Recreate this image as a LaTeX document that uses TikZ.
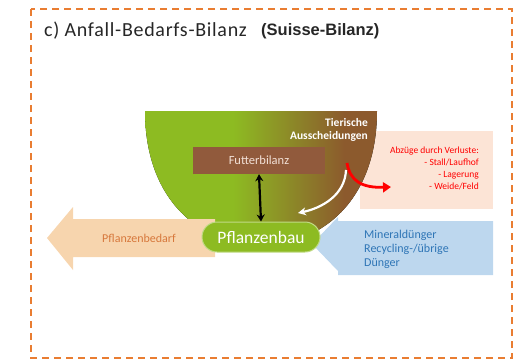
\documentclass[tikz,border=0pt]{standalone}
\usepackage{fontspec}
\setmainfont{Carlito}
\newfontfamily\arialfont{Liberation Sans}
\newfontfamily\titlefont[LetterSpace=3.5]{Carlito}
\usetikzlibrary{arrows.meta}
\definecolor{leafgreen}{RGB}{141,187,34}
\definecolor{soilbrown}{RGB}{140,90,45}
\definecolor{boxbrown}{RGB}{145,90,60}
\definecolor{frameorange}{RGB}{233,125,50}
\definecolor{peach}{RGB}{247,213,174}
\definecolor{peachtext}{RGB}{215,120,60}
\definecolor{rosy}{RGB}{252,228,214}
\definecolor{skyblue}{RGB}{189,215,238}
\definecolor{blueink}{RGB}{46,117,182}
\definecolor{futtertext}{RGB}{242,224,214}
\pgfdeclarehorizontalshading{bowlshade}{100bp}{color(0bp)=(leafgreen); color(25bp)=(leafgreen); color(44bp)=(leafgreen); color(68bp)=(soilbrown); color(100bp)=(soilbrown)}

\begin{document}
\begin{tikzpicture}[x=1pt,y=-1pt]
    \tikzset{%
      titletext/.style={anchor=west, inner sep=0pt, text=black!85},
      futterbox/.style={rectangle, fill=boxbrown, text=futtertext, minimum
        width=132pt, minimum height=27pt, inner sep=0pt,
        font=\fontsize{12.5}{15}\selectfont},
      pill/.style={rectangle, rounded corners=15pt, fill=leafgreen,
        draw=leafgreen!55!white, line width=1pt, text=white, minimum
        width=118pt, minimum height=30pt, inner sep=0pt,
        font=\fontsize{17.5}{20}\selectfont},
      smalltext/.style={inner sep=0pt, font=\fontsize{12}{14}\selectfont},
      losstext/.style={inner sep=0pt, text=red, align=right,
        font=\fontsize{9.5}{12}\selectfont},
    }
    \useasboundingbox (0,0) rectangle (520,360);
    \draw [frameorange, line width=1.8pt, dash pattern=on 7pt off 5pt]
      (31,9) rectangle (512,358);

    \node[titletext, font=\titlefont\fontsize{20}{24}\selectfont] (T1) at (44,31)
      {c) Anfall-Bedarfs-Bilanz};
    \node[titletext, font=\arialfont\bfseries\fontsize{16.5}{19}\selectfont]
      (T2) at (261,31) {(Suisse-Bilanz)};

    % Verluste
    \fill [rosy] (360,131) rectangle (493,209);
    \node[losstext, anchor=north east] (L) at (479,147)
      {Abzüge durch Verluste:\\- Stall/Laufhof\\- Lagerung\\- Weide/Feld};

    % Kreislauf
    \fill [shading=bowlshade] (145,111) -- (377,111)
      .. controls (377,200) and (322,245) .. (261,245)
      .. controls (200,245) and (145,200) .. (145,111) -- cycle;
    \node[futterbox] (F) at (259,160.5) {Futterbilanz};
    \node[anchor=north east, inner sep=0pt, text=white, align=right,
      font=\bfseries\fontsize{11.5}{13}\selectfont] (A) at (368,118)
      {Tierische\\Ausscheidungen};

    % Zufuhr
    \fill [skyblue] (312,244) -- (338,217) -- (338,221) -- (493,221)
      -- (493,275) -- (338,275) -- (338,271) -- cycle;
    \node[smalltext, text=blueink, anchor=west, align=left] (M) at (364,249)
      {Mineraldünger\\Recycling-/übrige\\Dünger};

    % Bedarf
    \fill [peach] (47,238) -- (73,207) -- (73,219) -- (215,219)
      -- (215,257) -- (73,257) -- (73,270) -- cycle;
    \node[smalltext, text=peachtext] (P0) at (139,238) {Pflanzenbedarf};

    \node[pill] (P) at (261,237) {Pflanzenbau};

    \draw [line width=2.2pt, {Stealth[length=7pt,width=8pt]}-{Stealth[length=7pt,width=8pt]}]
      (F.south) -- (P.north);

    \coordinate (R0) at (347,163);
    \coordinate (R1) at (391,187);
    \draw [red, line width=2.8pt, -{Triangle[length=8pt,width=10pt]}]
      (R0) .. controls (350,181) and (362,188) .. (R1);

    \coordinate (W0) at (346,170);
    \coordinate (W1) at (298,213);
    \draw [white, line width=2.2pt, -{Stealth[length=8pt,width=8pt]}]
      (W0) .. controls (345,195) and (322,208) .. (W1);
  \end{tikzpicture}
\end{document}
